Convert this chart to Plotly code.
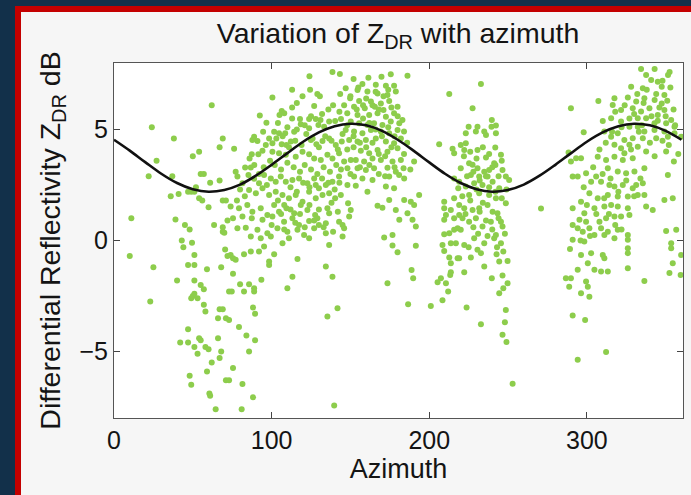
import plotly.graph_objects as go

# ---------------- data ----------------
az_ticks = [0, 100, 200, 300]
zdr_ticks = [-5, 0, 5]

# fitted curve, read every 10 degrees of azimuth
curve_az = list(range(0, 361, 10))
curve_zdr = [4.54, 4.05, 3.52, 3.01, 2.59, 2.31, 2.20, 2.28, 2.52, 2.92, 3.41, 3.94, 4.45, 4.87, 5.15, 5.26, 5.19, 4.94,
             4.54, 4.05, 3.52, 3.01, 2.59, 2.31, 2.20, 2.28, 2.52, 2.92, 3.41, 3.94, 4.45, 4.87, 5.15, 5.26, 5.19, 4.94,
             4.54]

# measured (azimuth, ZDR) samples, grouped by azimuth sector
sector1 = [(62, 6.1), (24, 5.1), (38, 4.6), (69, 4.6), (67, 4.2), (54, 4.0), (50, 3.8), (27, 3.6), (22, 2.9), (37, 2.9),
           (55, 3.0), (57, 3.0), (61, 2.6), (67, 2.7), (52, 2.4), (47, 2.2), (49, 2.2), (51, 2.2), (41, 2.1), (36, 2.0),
           (54, 1.9), (56, 1.8), (60, 1.5), (69, 1.8), (71, 1.8), (11, 1.0), (39, 0.95), (45, 0.7), (48, 0.5), (63.5, 0.7),
           (69, 0.6), (72, 0.9), (43, 0.0), (49.5, -0.1), (44, -0.3), (69, 0.4), (70, 0.35), (70.5, -0.4), (10, -0.7),
           (25, -1.2), (47, -1.1), (51, -1.1), (51, -0.65), (59, -1.3), (68, -1.2), (72, -0.7), (40, -1.8), (51, -1.8),
           (55, -2.0), (57, -2.2), (51, -2.4), (49, -2.6), (50, -2.5), (53, -2.6), (23, -2.75), (57, -2.9), (58, -3.2),
           (67, -3.1), (69, -3.1), (66, -3.5), (71, -3.5), (73, -2.3), (47, -4.0), (54, -4.4), (55, -4.5), (42, -4.6),
           (47, -4.6), (51, -4.8), (58, -4.8), (60, -4.9), (66, -4.4), (53, -5.1), (68, -5.0), (67, -5.3), (62, -5.5),
           (59, -5.9), (48, -6.1), (49, -6.5), (71, -6.3), (60.5, -6.9), (61, -7.0), (64.5, -7.6)]

sector2 = [(124, 7.4), (138.6, 7.6), (143.3, 7.5), (113, 6.8), (124.4, 6.8), (129, 6.6), (130.6, 6.5), (100.5, 6.45),
           (119.6, 6.5), (143.5, 6.6), (116, 6.2), (113, 6.0), (127, 6.06), (106.4, 5.84), (105, 5.66), (108, 5.73),
           (92.5, 5.63), (113, 5.5), (118, 5.48), (118.5, 5.24), (123.8, 5.48), (128, 5.48), (131, 5.43), (136.5, 5.36),
           (140.3, 5.39), (144, 5.48), (96.7, 5.31), (129.7, 5.21), (133.3, 5.13), (94.6, 4.9), (101.6, 4.9),
           (104.7, 4.83), (108.6, 4.83), (114.3, 4.9), (123.8, 5.06), (88.9, 4.68), (91, 4.49), (87.8, 4.53),
           (98.4, 4.6), (100.5, 4.38), (96.3, 4.3), (106.4, 4.34), (109.4, 4.3), (112.2, 4.46), (124.9, 4.53),
           (128.4, 4.34), (132.3, 4.49), (136.5, 4.6), (140.7, 4.3), (144.5, 4.46), (76.2, 4.13), (83.2, 3.29),
           (86.8, 3.29), (87.4, 3.89), (91.6, 3.89), (94.2, 4.04), (100.5, 4.0), (104.7, 3.93), (109, 3.86),
           (115.3, 3.78), (119.6, 4.0), (123.8, 3.89), (127, 3.7), (131.2, 3.63), (135.4, 3.86), (138.6, 3.7),
           (142.8, 3.93), (77.2, 3.1), (78.3, 2.88), (81.5, 2.58), (85.3, 2.95), (88.9, 2.78), (92, 2.58), (95.2, 2.95),
           (99.5, 2.8), (102.6, 2.65), (105.8, 2.88), (109, 2.65), (113.2, 2.73), (117.4, 2.8), (122.7, 2.58),
           (127, 2.8), (130, 2.35), (134.4, 2.5), (138.6, 2.65), (142.8, 2.88), (85.7, 2.28), (90, 2.13), (94.2, 2.35),
           (98.4, 2.05), (102.6, 2.2), (106.9, 2.05), (111, 1.9), (115.3, 2.05), (119.6, 1.75), (123.8, 2.2),
           (128, 1.9), (132.3, 2.05), (136.5, 2.13), (140.3, 1.9), (143.9, 2.05), (74, 1.53), (79.3, 1.45),
           (84.6, 1.6), (87.8, 1.3), (93.1, 1.45), (97.3, 1.15), (101.6, 1.6), (104.7, 1.3), (109.4, 1.45),
           (114.3, 1.23), (118.5, 1.6), (122.7, 1.38), (127.6, 1.15), (135.4, 1.45), (136.5, 1.23), (75.5, 1.0),
           (81.5, 1.08), (87.4, 1.0), (94.2, 0.93), (100.5, 1.08), (107.9, 0.85), (113.2, 1.0), (117.4, 0.7),
           (123.8, 0.88), (129, 1.0), (134.4, 0.78), (142.8, 0.85), (78.3, 0.55), (83.6, 0.58), (91, 0.48),
           (97.3, 0.33), (103.7, 0.55), (110, 0.4), (116.4, 0.48), (120.6, 0.25), (127, 0.55), (130, 0.7),
           (134.4, 0.33), (145, 0.7), (145, 0.18), (86.8, 0.18), (93.1, 0.1), (99.5, 0.18), (106.9, -0.12),
           (111, 0.1), (123.8, 0.1), (74, -0.65), (77.2, -0.87), (82.5, -0.62), (86.8, -0.5), (92, -0.5),
           (95.2, -0.27), (101.6, -0.62), (136.5, -0.2), (98.4, -0.95), (98.4, -1.1), (116.4, -0.83), (75.5, -0.8),
           (75.5, -1.5), (134.4, -1.17), (138.6, -1.63), (113.2, -1.63), (93.5, -1.77), (80, -1.97), (85.7, -1.97),
           (82.5, -2.3), (88.9, -2.15), (88.9, -2.3), (74.7, -2.3), (110, -2.15), (88.2, -3.02), (89.5, -3.3),
           (73, -3.58), (141.8, -3.05), (135.4, -3.43), (79.3, -3.9), (84, -4.28), (89.5, -4.5), (85.7, -5.0),
           (75.5, -5.75), (73, -6.3), (81.5, -6.47), (88.2, -7.07), (81, -7.6), (139.7, -7.44)]

sector3 = [(152, 7.28), (161.4, 7.34), (169.7, 7.38), (175.6, 7.49), (186.2, 7.43), (157.6, 7.05), (166.1, 7.02),
           (172.5, 6.98), (177.7, 6.98), (147, 6.86), (154.5, 6.78), (160.8, 6.71), (167.2, 6.63), (173.5, 6.56),
           (178.8, 6.71), (149.8, 6.41), (155.5, 6.29), (163, 6.26), (169.3, 6.18), (174.6, 6.29), (146, 6.1),
           (152.3, 6.03), (159.1, 5.96), (165.5, 6.03), (171, 5.88), (179.9, 6.03), (148, 5.73), (154.5, 5.66),
           (161.9, 5.66), (167.2, 5.73), (172.5, 5.58), (177.7, 5.73), (183, 5.43), (150.2, 5.36), (155.5, 5.28),
           (160.8, 5.21), (165, 5.28), (170.3, 5.21), (175.6, 5.36), (181, 5.28), (147, 4.98), (152.3, 4.91),
           (157.6, 4.83), (163, 4.98), (169.3, 4.91), (174.6, 4.83), (179.9, 4.98), (184, 4.91), (149.2, 4.53),
           (154.5, 4.46), (159.8, 4.53), (166.1, 4.6), (172.5, 4.46), (177.7, 4.38), (206.3, 4.34), (214.8, 4.13),
           (215.8, 3.93), (148, 4.1), (156.6, 4.04), (161.9, 3.93), (167.2, 4.08), (173.5, 4.0), (179.9, 4.16),
           (150.2, 3.63), (153.4, 3.63), (158.7, 3.56), (164, 3.7), (169.3, 3.63), (176.7, 3.56), (182, 3.63),
           (190.4, 3.56), (146, 3.56), (148.1, 3.26), (154.5, 3.26), (159.8, 3.18), (165, 3.26), (173.5, 3.28),
           (178.8, 3.1), (183.7, 3.26), (152.3, 2.88), (157.6, 2.8), (164, 2.73), (174.6, 2.88), (180.9, 2.95),
           (184.1, 2.8), (148.1, 2.5), (153.4, 2.47), (172.5, 2.43), (177.7, 2.35), (215.8, 2.8), (218.4, 2.35),
           (160.8, 2.2), (174.6, 1.83), (193.6, 2.05), (184.1, 1.83), (188.3, 1.75), (190.4, 1.6), (209.5, 1.75),
           (215.8, 1.9), (209.5, 1.45), (213.7, 1.38), (148.5, 1.68), (150.2, 1.38), (149.2, 1.08), (146, 0.55),
           (167.2, 1.57), (170.3, 1.48), (178.8, 1.38), (186.2, 1.23), (181, 0.93), (189.4, 0.93), (191.5, 0.63),
           (210.6, 1.15), (209.5, 0.93), (215.8, 1.0), (219, 1.15), (209.5, 0.28), (212.7, 0.33), (215.8, 0.48),
           (218, 0.55), (213.7, -0.12), (216.9, -0.12), (171.4, 0.13), (176.7, 0.25), (176.7, -0.23), (179.9, -0.53),
           (191.5, -0.24), (208.4, -0.2), (209.5, -0.47), (212.7, -0.77), (213.7, -1.02), (218, -0.8), (188.8, -1.33),
           (189.8, -1.7), (173.5, -1.93), (205.3, -1.88), (207.4, -1.7), (210.6, -1.93), (213.3, -1.55),
           (213.7, -1.43), (212, -2.3), (208.4, -2.69), (186.6, -2.87), (201, -2.95), (212.7, 6.6)]

sector4 = [(232.8, 7.05), (227.5, 5.96), (239.7, 5.43), (242.3, 5.18), (239.5, 5.13), (225, 5.13), (230.6, 5.13),
           (229.6, 4.91), (223.2, 4.83), (236, 4.76), (234.9, 4.91), (242.3, 4.83), (220, 4.3), (223.2, 4.38),
           (222.2, 4.08), (230.6, 4.08), (241.9, 4.19), (245.5, 3.86), (236, 3.74), (241.2, 3.48), (220, 3.26),
           (225.3, 3.48), (227.5, 3.41), (230.6, 3.26), (234.9, 3.1), (238, 3.18), (226.4, 2.95), (231.7, 2.88),
           (237, 2.88), (246.5, 3.18), (248.6, 2.88), (250.7, 2.73), (219, 2.65), (223.2, 2.43), (228.5, 2.58),
           (233.8, 2.5), (240.2, 2.65), (244.4, 2.35), (225.3, 2.05), (231.7, 2.13), (238, 2.05), (242.3, 1.9),
           (248.6, 1.68), (222.2, 1.45), (227.5, 1.38), (231.7, 1.45), (237, 1.6), (240.2, 1.3), (243.3, 1.23),
           (219, 1.6), (221.1, 1.0), (225.3, 0.85), (229.6, 1.0), (233.8, 0.63), (239.1, 0.85), (245.5, 0.85),
           (246.5, 0.63), (220, 0.48), (228.5, 0.1), (234.9, -0.12), (241.2, 0.1), (245.5, -0.12), (242.3, 0.25),
           (222.2, -0.2), (230.6, -0.42), (232.8, -0.57), (226.4, -0.77), (219, -0.8), (242.7, -0.62), (244.4, -0.95),
           (249.7, -0.92), (234.9, -1.17), (222.2, -1.43), (239.7, -1.7), (246.5, -1.58), (249.7, -1.93),
           (247, -2.15), (244.4, -2.38), (223.7, -3.02), (248.6, -3.13), (232.8, -3.77), (248, -3.68),
           (246.5, -4.25), (249, -4.58), (252.9, -6.46), (270.9, 1.44), (289.9, 5.96), (288.4, 3.97), (289.9, 3.56),
           (291, 2.88), (291, 1.45), (291, 0.7), (291, 0.03), (289.3, -0.38), (286.7, -1.7), (289.9, -1.7),
           (288.8, -2.08), (291, -3.38)]

sector5 = [(334.4, 7.73), (343, 7.73), (352.5, 7.6), (351.5, 7.46), (337.6, 7.46), (340.8, 7.23), (345, 7.16),
           (328.1, 6.93), (335.5, 6.86), (347.5, 6.93), (349.2, 6.56), (307.3, 6.29), (317.5, 6.41), (326, 6.44),
           (331.3, 6.26), (336.5, 6.41), (343, 6.33), (347.5, 6.18), (316.4, 6.11), (321.7, 5.88), (329.1, 5.96),
           (334.4, 5.81), (339.7, 5.96), (345, 5.66), (349.2, 5.88), (332.3, 5.51), (337.6, 5.51), (342.9, 5.28),
           (350.3, 5.28), (353.5, 5.43), (310.1, 5.39), (315.4, 5.51), (321.7, 5.36), (327, 5.13), (332.3, 5.13),
           (336.5, 4.91), (342.9, 4.98), (349.2, 4.91), (355.6, 5.13), (298, 4.88), (311.1, 4.91), (315.4, 4.68),
           (319.6, 4.83), (323.8, 4.53), (329.1, 4.61), (335.5, 4.61), (344, 4.61), (351.4, 4.68), (355.6, 4.83),
           (359.8, 4.68), (317.5, 4.31), (321.7, 4.16), (327, 4.31), (332.3, 4.23), (337.6, 4.01), (350.3, 4.01),
           (355.2, 3.56), (323.8, 3.93), (293.2, 3.71), (296.3, 3.71), (306.9, 3.78), (312.2, 3.63), (317.5, 3.78),
           (322.8, 3.63), (329.1, 3.71), (294.2, 2.88), (299.5, 3.03), (305.9, 2.88), (313.3, 3.26), (319.6, 3.11),
           (324.9, 3.03), (330.2, 3.11), (336.5, 3.26), (351.4, 2.95), (302.7, 2.65), (309, 2.65), (314.3, 2.5),
           (317.5, 2.43), (322.8, 2.5), (329.1, 2.35), (331.3, 2.5), (335.5, 2.58), (336.5, 2.05), (332.3, 2.05),
           (326, 1.98), (319.6, 1.98), (313.3, 2.05), (306.9, 1.9), (301.6, 2.13), (296.3, 1.75), (298.4, 1.23),
           (304.8, 1.45), (311.1, 1.53), (315.4, 1.6), (319.6, 1.53), (326, 1.45), (337.6, 1.53), (341.8, 1.38),
           (349.2, 1.83), (354.5, 1.9), (295.3, 0.93), (299.5, 0.85), (308, 0.85), (312.2, 1.0), (317.5, 1.08),
           (321.7, 1.08), (327, 1.15), (309, 0.55), (294.2, 0.55), (297.4, 0.4), (301.6, 0.55), (304.8, 0.25),
           (311.1, 0.25), (313.3, 0.4), (319.6, 0.48), (317.5, 0.1), (326, 0.25), (326, 0.03), (326, -0.35),
           (326, -0.57), (350.3, 0.43), (356.7, 0.48), (353.5, -0.12), (353.5, -0.35), (298.4, -0.05),
           (296.3, -0.65), (302.7, -0.57), (300.6, -1.02), (304.8, -1.32), (310.1, -0.65), (311.1, -0.8),
           (309, -1.4), (313.3, -1.4), (326, -1.25), (336.5, -1.82), (354.5, -1.02), (352.4, -1.47), (359.8, -0.65),
           (359.5, -1.55), (294.2, -1.32), (299.5, -1.85), (300.6, -2.08), (296.3, -2.38), (301.6, -2.53),
           (298.9, -3.58), (312.2, -5.03), (294.2, -5.38)]

# additional samples in the densest clusters
dense_a = [(102, 3.4), (106, 3.2), (110, 3.5), (114, 3.3), (118, 3.1), (121, 3.4), (125, 3.2), (129, 3.0), (133, 3.3),
           (137, 3.1), (141, 3.4), (144, 3.2), (104, 1.8), (108, 1.6), (112, 2.4), (116, 2.2), (120, 2.6), (124, 2.4),
           (128, 2.5), (132, 2.8), (136, 2.6), (140, 2.3), (143, 2.6), (97, 2.5), (99, 3.6), (95, 3.3), (92, 3.0),
           (89, 3.4), (86, 3.7), (83, 2.0), (80, 2.3), (78, 1.8), (103, 4.6), (107, 4.7), (111, 4.2), (115, 4.5),
           (119, 4.3), (122, 4.8), (126, 4.6), (130, 4.2), (134, 4.7), (138, 4.5), (142, 4.1), (145, 4.8), (104, 5.3),
           (110, 5.1), (116, 5.0), (121, 5.2), (125, 5.6), (132, 5.7), (136, 5.9), (139, 6.1), (143, 5.8), (106, 1.2),
           (112, 1.4), (118, 1.2), (124, 1.6), (130, 1.4), (138, 1.7), (142, 1.3), (100, 0.7), (108, 0.5), (115, 0.8),
           (121, 0.6), (127, 0.9), (133, 0.6), (139, 0.4)]
dense_b = [(150, 6.5), (155, 6.9), (160, 6.4), (164, 6.1), (168, 5.9), (171, 6.5), (176, 6.0), (180, 5.6), (158, 5.5),
           (162, 5.3), (166, 5.0), (170, 4.7), (174, 5.1), (178, 4.7), (182, 4.6), (186, 4.4), (152, 4.2), (156, 4.4),
           (160, 4.2), (164, 4.4), (168, 3.9), (172, 3.8), (176, 4.2), (184, 3.9), (150, 3.0), (156, 3.3), (162, 3.4),
           (168, 3.0), (172, 2.9), (178, 3.3), (188, 3.2), (154, 5.9), (148, 5.2), (152, 4.7), (158, 6.1), (166, 6.7),
           (174, 6.8)]
dense_c = [(222, 3.8), (226, 4.0), (230, 3.7), (234, 4.2), (238, 3.9), (242, 3.4), (246, 3.6), (224, 2.9), (228, 3.1),
           (232, 2.7), (236, 2.9), (240, 3.3), (244, 2.9), (221, 2.0), (226, 1.8), (230, 2.3), (234, 1.7), (238, 2.4),
           (242, 2.2), (246, 1.9), (249, 2.3), (223, 1.2), (228, 0.6), (232, 1.3), (236, 0.9), (240, 0.5), (244, 1.0),
           (248, 0.3), (225, -0.3), (231, 0.3), (237, 0.2), (243, -0.3), (247, -0.5)]
dense_d = [(318, 5.8), (324, 6.1), (330, 5.7), (336, 6.2), (341, 5.6), (346, 6.0), (351, 6.3), (355, 5.9), (338, 6.8),
           (344, 6.6), (348, 7.2), (353, 6.9), (332, 6.6), (327, 5.5), (322, 5.1), (316, 4.9), (312, 4.4), (308, 4.1),
           (304, 3.3), (310, 3.0), (315, 2.8), (320, 2.2), (325, 2.7), (330, 2.0), (334, 2.8), (311, 1.9), (314, 1.2),
           (318, 0.7), (322, 0.5), (306, 1.2), (302, 0.2), (300, 1.6), (298, 2.4), (296, 0.0), (335, 5.2), (345, 5.4),
           (350, 5.6), (356, 5.2), (340, 4.4), (333, 4.9), (328, 4.1), (343, 3.8), (348, 4.5), (352, 4.3), (358, 3.9)]

samples = sector1 + sector2 + sector3 + sector4 + sector5 + dense_a + dense_b + dense_c + dense_d
samp_az = [p[0] for p in samples]
samp_zdr = [p[1] for p in samples]

# ---------------- figure ----------------
W, H = 691, 495
L, R, T, B = 114, 8, 63, 77
PW, PH = W - L - R, H - T - B

def px_x(px):
    return (px - L) / PW

def px_y(py):
    return (H - B - py) / PH

FONT = "Liberation Sans, Arial, Helvetica, sans-serif"
TXT = "#141414"

fig = go.Figure()
fig.add_trace(go.Scatter(x=samp_az, y=samp_zdr, mode="markers",
                         marker=dict(size=6, color="#8dcd4c", line=dict(width=0)),
                         hoverinfo="skip"))
fig.add_trace(go.Scatter(x=curve_az, y=curve_zdr, mode="lines",
                         line=dict(color="#111111", width=2.6, shape="spline"),
                         hoverinfo="skip"))

shapes = [
    # dark slide background strips
    dict(type="rect", xref="paper", yref="paper", x0=px_x(0), x1=px_x(W), y0=px_y(0), y1=px_y(6),
         fillcolor="#12304a", line=dict(width=0), layer="below"),
    dict(type="rect", xref="paper", yref="paper", x0=px_x(0), x1=px_x(15), y0=px_y(0), y1=px_y(H),
         fillcolor="#12304a", line=dict(width=0), layer="below"),
    # red frame
    dict(type="rect", xref="paper", yref="paper", x0=px_x(15), x1=px_x(W), y0=px_y(6), y1=px_y(12),
         fillcolor="#c40000", line=dict(width=0), layer="below"),
    dict(type="rect", xref="paper", yref="paper", x0=px_x(15), x1=px_x(21), y0=px_y(6), y1=px_y(H),
         fillcolor="#c40000", line=dict(width=0), layer="below"),
]

axis_common = dict(showline=True, linecolor="#555555", linewidth=1, mirror="ticks",
                   ticks="inside", ticklen=6, tickwidth=1, tickcolor="#444444",
                   showgrid=False, zeroline=False,
                   tickfont=dict(family=FONT, size=25, color=TXT))

fig.update_layout(
    width=W, height=H,
    margin=dict(l=L, r=R, t=T, b=B, pad=0),
    paper_bgcolor="#f6f6f6", plot_bgcolor="#ffffff",
    showlegend=False,
    font=dict(family=FONT, color=TXT),
    shapes=shapes,
    title=dict(text="Variation of Z<sub>DR</sub> with azimuth", x=398 / W,
               xanchor="center", xref="container", yref="container", y=1 - 33 / H, yanchor="middle",
               font=dict(family=FONT, size=28.5, color=TXT)),
    xaxis=dict(range=[0, 361], tickvals=az_ticks, ticktext=[str(v) for v in az_ticks],
               title=dict(text="Azimuth", font=dict(family=FONT, size=27, color=TXT), standoff=6),
               **axis_common),
    yaxis=dict(range=[-8, 8], tickvals=zdr_ticks, ticktext=["\u22125", "0", "5"],
               title=dict(text="Differential Reflectivity Z<sub>DR</sub> dB",
                          font=dict(family=FONT, size=28.5, color=TXT), standoff=10),
               **axis_common),
)

fig.write_html("out.html")
